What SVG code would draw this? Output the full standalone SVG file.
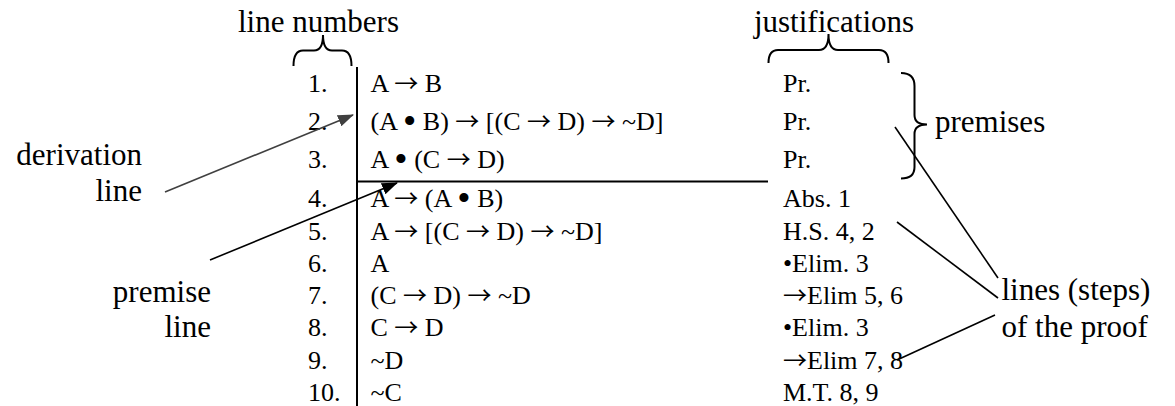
<svg xmlns="http://www.w3.org/2000/svg" width="1175" height="406" viewBox="0 0 1175 406" font-family="'Liberation Serif', 'DejaVu Serif', serif">
<style>
text { font-family: 'Liberation Serif', 'DejaVu Serif', serif; fill: #000; }
.p { font-size: 26px; }
.lbl { font-size: 31px; }
.big { font-size: 38px; }
.ar { font-family: 'Noto Sans CJK SC', 'DejaVu Sans', sans-serif; font-size: 24px; }
.rule { stroke: #000; stroke-width: 2; fill: none; }
.brace { stroke: #000; stroke-width: 2; fill: none; }
.conn { stroke: #000; stroke-width: 1.6; fill: none; }
</style>
<defs>
<marker id="ahGray" markerUnits="userSpaceOnUse" markerWidth="16" markerHeight="12" refX="15" refY="6" orient="auto">
<path d="M0,0 L16,6 L0,12 Z" fill="#404040"/>
</marker>
<marker id="ahBlack" markerUnits="userSpaceOnUse" markerWidth="16" markerHeight="12" refX="15" refY="6" orient="auto">
<path d="M0,0 L16,6 L0,12 Z" fill="#000"/>
</marker>
</defs>
<rect width="1175" height="406" fill="#fff"/>

<g id="proof-rules">
<line class="rule" x1="357" y1="67" x2="357" y2="406"/>
<line class="rule" x1="357" y1="181.5" x2="768" y2="181.5"/>
</g>

<g id="line-numbers">
<text class="p" x="308" y="92">1.</text>
<text class="p" x="308" y="130">2.</text>
<text class="p" x="308" y="168">3.</text>
<text class="p" x="308" y="207">4.</text>
<text class="p" x="308" y="239.5">5.</text>
<text class="p" x="308" y="272">6.</text>
<text class="p" x="308" y="304">7.</text>
<text class="p" x="308" y="336">8.</text>
<text class="p" x="308" y="368.5">9.</text>
<text class="p" x="308" y="400.5">10.</text>
</g>

<g id="formulas">
<text class="p" x="370.5" y="92">A <tspan class="ar">→</tspan> B</text>
<text class="p" x="370.5" y="130">(A <tspan class="big" dy="4">•</tspan><tspan dy="-4"> B) </tspan><tspan class="ar">→</tspan> [(C <tspan class="ar">→</tspan> D) <tspan class="ar">→</tspan> ~D]</text>
<text class="p" x="370.5" y="168">A <tspan class="big" dy="4">•</tspan><tspan dy="-4"> (C </tspan><tspan class="ar">→</tspan> D)</text>
<text class="p" x="370.5" y="207">A <tspan class="ar">→</tspan> (A <tspan class="big" dy="4">•</tspan><tspan dy="-4"> B)</tspan></text>
<text class="p" x="370.5" y="239.5">A <tspan class="ar">→</tspan> [(C <tspan class="ar">→</tspan> D) <tspan class="ar">→</tspan> ~D]</text>
<text class="p" x="370.5" y="272">A</text>
<text class="p" x="370.5" y="304">(C <tspan class="ar">→</tspan> D) <tspan class="ar">→</tspan> ~D</text>
<text class="p" x="370.5" y="336">C <tspan class="ar">→</tspan> D</text>
<text class="p" x="370.5" y="368.5">~D</text>
<text class="p" x="370.5" y="400.5">~C</text>
</g>

<g id="justifications">
<text class="p" x="783" y="92">Pr.</text>
<text class="p" x="783" y="130">Pr.</text>
<text class="p" x="783" y="168">Pr.</text>
<text class="p" x="783" y="207">Abs. 1</text>
<text class="p" x="783" y="239.5">H.S. 4, 2</text>
<text class="p" x="783" y="272">•Elim. 3</text>
<text class="p" x="783" y="304"><tspan class="ar">→</tspan>Elim 5, 6</text>
<text class="p" x="783" y="336">•Elim. 3</text>
<text class="p" x="783" y="368.5"><tspan class="ar">→</tspan>Elim 7, 8</text>
<text class="p" x="783" y="400.5">M.T. 8, 9</text>
</g>

<g id="label-line-numbers">
<text class="lbl" x="318.5" y="32" text-anchor="middle">line numbers</text>
<path class="brace" d="M293.5,66 C293.5,56 296.5,50.5 303,50.5 L314,50.5 C320,50.5 323,45 323,35 C323,45 326,50.5 332,50.5 L342,50.5 C348.5,50.5 351.5,56 351.5,66"/>
</g>

<g id="label-justifications">
<text class="lbl" x="834" y="32" text-anchor="middle">justifications</text>
<path class="brace" d="M768.5,63 C768.5,55 771.5,50 778,50 L819,50 C825,50 828.5,45 828.5,34 C828.5,45 832,50 838,50 L879,50 C885.5,50 888.5,55 888.5,63"/>
</g>

<g id="label-premises">
<path class="brace" d="M901,73 C910,73 914.5,77 914.5,86 L914.5,115 C914.5,121 918,124.5 927,124.5 C918,124.5 914.5,128 914.5,134 L914.5,167 C914.5,175 910,178.5 901,178.5"/>
<text class="lbl" x="935" y="132">premises</text>
</g>

<g id="label-derivation-line">
<text class="lbl" x="142" y="165" text-anchor="end">derivation</text>
<text class="lbl" x="142" y="200.5" text-anchor="end">line</text>
</g>

<g id="label-premise-line">
<text class="lbl" x="211" y="301.5" text-anchor="end">premise</text>
<text class="lbl" x="211" y="336.5" text-anchor="end">line</text>
</g>

<g id="label-lines-steps">
<text class="lbl" x="1001.5" y="300">lines (steps)</text>
<text class="lbl" x="1001.5" y="336.5">of the proof</text>
</g>

<g id="connectors">
<line x1="165" y1="192" x2="353" y2="115" stroke="#404040" stroke-width="1.6" marker-end="url(#ahGray)"/>
<line class="conn" x1="210" y1="260" x2="397" y2="183" marker-end="url(#ahBlack)"/>
<line class="conn" x1="895" y1="127" x2="998" y2="278"/>
<line class="conn" x1="897" y1="222" x2="998" y2="298"/>
<line class="conn" x1="995" y1="315" x2="897" y2="360"/>
</g>
</svg>
